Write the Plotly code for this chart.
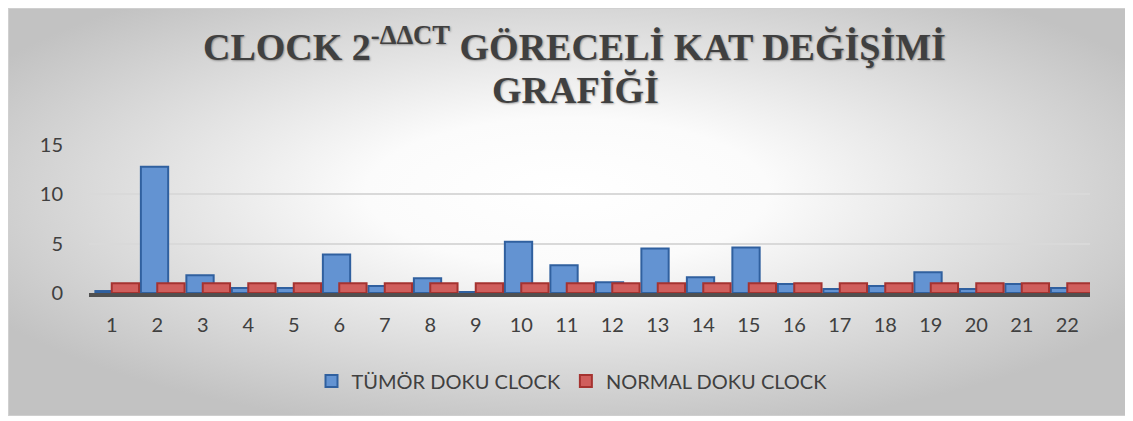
import base64
import plotly.graph_objects as go

categories = [str(i) for i in range(1, 23)]
tumor_values = [0.2, 12.8, 1.8, 0.5, 0.5, 3.9, 0.7, 1.5, 0.1, 5.2, 2.8,
                1.1, 4.5, 1.6, 4.6, 0.9, 0.4, 0.7, 2.1, 0.4, 0.9, 0.5]
normal_values = [1.0] * 22
series_names = ["TÜMÖR DOKU CLOCK", "NORMAL DOKU CLOCK"]
title_lines = ["CLOCK 2<sup>-ΔΔCT</sup> GÖRECELİ KAT DEĞİŞİMİ", "GRAFİĞİ"]
y_ticks = [0, 5, 10, 15]

# the page body adds an 8px margin, so the figure is drawn 8px smaller
OFF = 8
W, H = 1133 - OFF, 421 - OFF
L, R, T, B = 81, 43, 137, 128
pw, ph = W - L - R, H - T - B


def px_x(p):
    return (p - OFF - L) / pw


def px_y(p):
    return (H - B - (p - OFF)) / ph


svg = """<svg xmlns='http://www.w3.org/2000/svg' width='1123' height='415' preserveAspectRatio='none' viewBox='0 0 1123 415'>
<defs><radialGradient id='g' cx='0.5' cy='0.45' r='0.6'>
<stop offset='0' stop-color='#ffffff'/>
<stop offset='0.3' stop-color='#fbfbfb'/>
<stop offset='1' stop-color='#c2c2c2'/>
</radialGradient></defs>
<rect x='0' y='0' width='1123' height='415' fill='url(#g)' stroke='#d0d0d0' stroke-width='2'/>
</svg>"""
src = "data:image/svg+xml;base64," + base64.b64encode(svg.encode()).decode()

xs = list(range(1, 23))
fig = go.Figure()
fig.add_trace(go.Bar(
    x=xs, y=tumor_values, name=series_names[0],
    offset=-0.36, width=0.6,
    marker=dict(color="#6393d2", line=dict(color="#30609f", width=2)),
))
fig.add_trace(go.Bar(
    x=xs, y=normal_values, name=series_names[1],
    offset=0.0, width=0.6,
    marker=dict(color="#d05e5c", line=dict(color="#a53330", width=2)),
))

title_font = dict(family="Liberation Serif", size=38, color="#404040",
                  weight="bold", shadow="1px 1px 2px rgba(0,0,0,0.35)")
fig.update_layout(
    width=W, height=H,
    margin=dict(l=L, r=R, t=T, b=B, autoexpand=False),
    paper_bgcolor="white", plot_bgcolor="rgba(0,0,0,0)",
    barmode="overlay",
    images=[dict(source=src, xref="paper", yref="paper",
                 x=px_x(OFF), y=px_y(OFF), sizex=px_x(1126) - px_x(OFF),
                 sizey=px_y(OFF) - px_y(416), xanchor="left", yanchor="top",
                 sizing="stretch", layer="below")],
    annotations=[
        dict(text=title_lines[0], xref="paper", yref="paper",
             x=px_x(574), xanchor="center", y=px_y(44), yanchor="middle",
             showarrow=False, font=title_font),
        dict(text=title_lines[1], xref="paper", yref="paper",
             x=px_x(575), xanchor="center", y=px_y(90), yanchor="middle",
             showarrow=False, font=title_font),
    ],
    legend=dict(orientation="h", x=px_x(572), xanchor="center",
                y=px_y(381), yanchor="middle",
                font=dict(family="Lato", size=20, color="#404040"),
                bgcolor="rgba(0,0,0,0)"),
    font=dict(family="Lato", color="#404040"),
)
fig.update_xaxes(range=[0.5, 22.5], tickvals=xs, ticktext=categories,
                 showgrid=False, zeroline=False, showline=True,
                 linecolor="#505050", linewidth=4, ticks="",
                 ticklabelstandoff=11,
                 tickfont=dict(family="Lato", size=20, color="#404040"))
fig.update_yaxes(range=[0, 15], tickvals=y_ticks, showgrid=True,
                 gridcolor="#d9d9d9", gridwidth=2, zeroline=False,
                 showline=False, ticks="", ticklabelstandoff=25,
                 tickfont=dict(family="Lato", size=20, color="#404040"))

fig.write_html("out.html")
